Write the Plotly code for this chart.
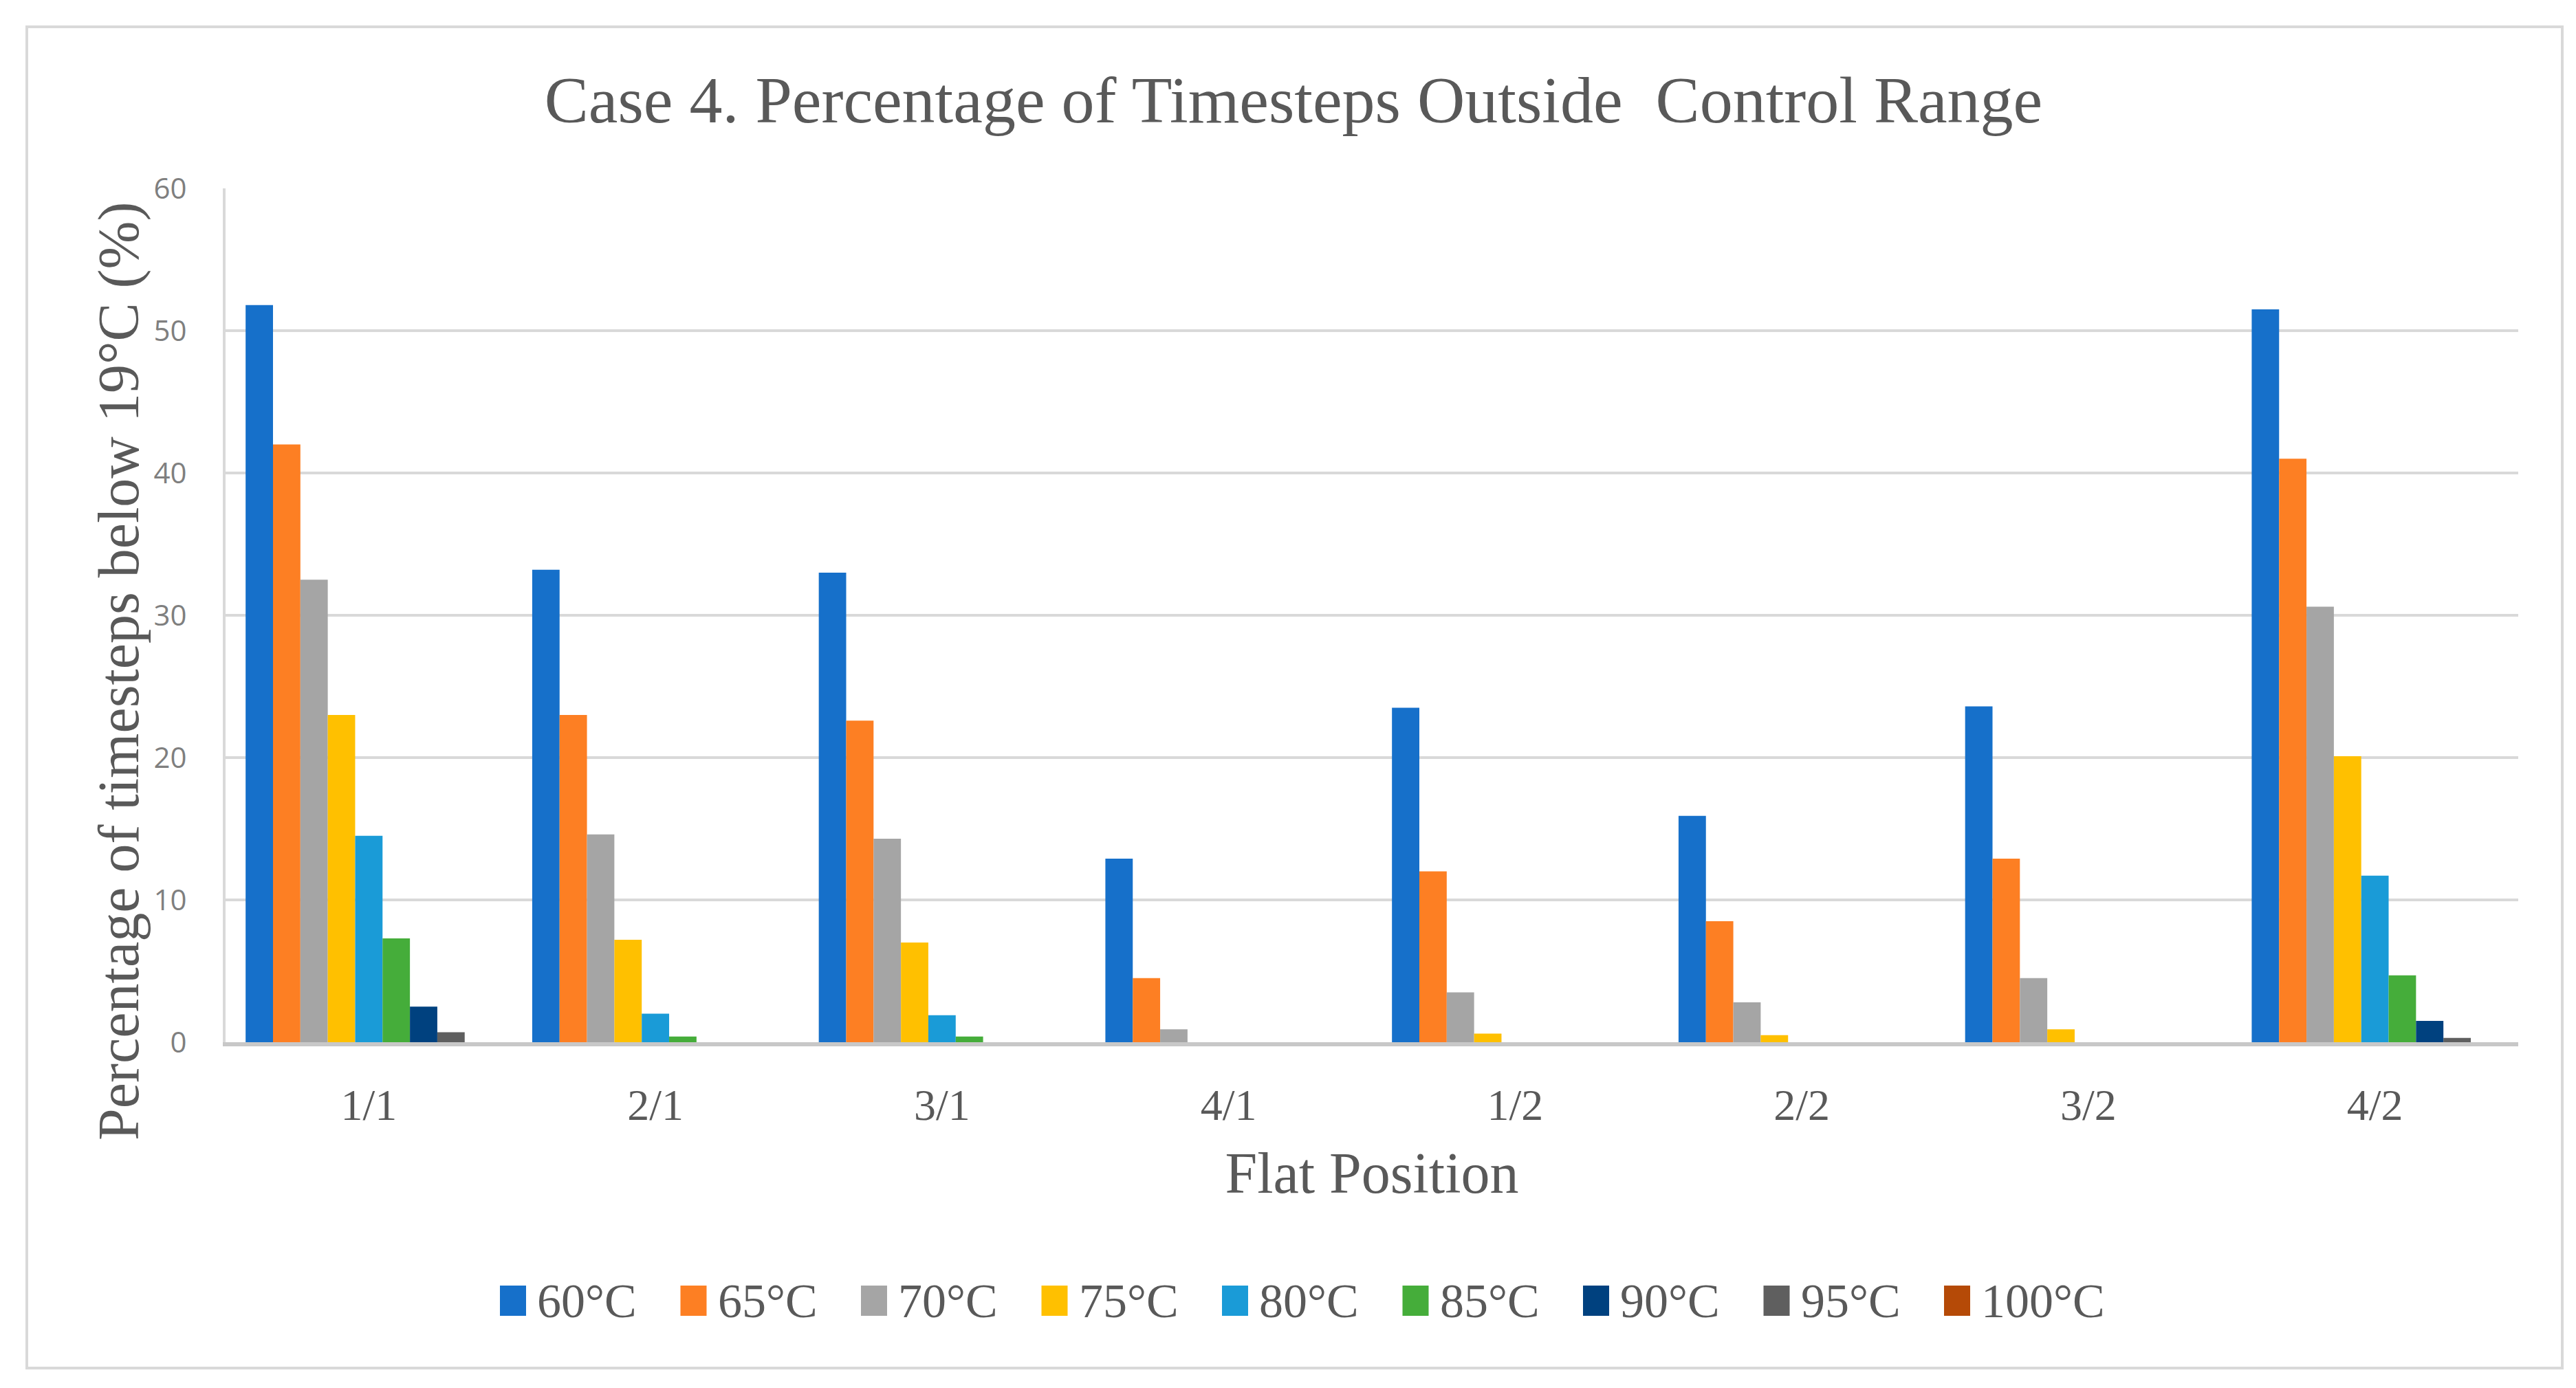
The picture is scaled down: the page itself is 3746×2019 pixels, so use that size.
import plotly.graph_objects as go

categories = ["1/1", "2/1", "3/1", "4/1", "1/2", "2/2", "3/2", "4/2"]
series_names = ["60°C", "65°C", "70°C", "75°C", "80°C", "85°C", "90°C", "95°C", "100°C"]
v60 = [51.8, 33.2, 33.0, 12.9, 23.5, 15.9, 23.6, 51.5]
v65 = [42.0, 23.0, 22.6, 4.5, 12.0, 8.5, 12.9, 41.0]
v70 = [32.5, 14.6, 14.3, 0.9, 3.5, 2.8, 4.5, 30.6]
v75 = [23.0, 7.2, 7.0, 0.0, 0.6, 0.5, 0.9, 20.1]
v80 = [14.5, 2.0, 1.9, 0.0, 0.0, 0.0, 0.0, 11.7]
v85 = [7.3, 0.4, 0.4, 0.0, 0.0, 0.0, 0.0, 4.7]
v90 = [2.5, 0.0, 0.0, 0.0, 0.0, 0.0, 0.0, 1.5]
v95 = [0.7, 0.0, 0.0, 0.0, 0.0, 0.0, 0.0, 0.3]
v100 = [0.0, 0.0, 0.0, 0.0, 0.0, 0.0, 0.0, 0.0]
values = [v60, v65, v70, v75, v80, v85, v90, v95, v100]
colors = ["#1670CA", "#FD7F23", "#A5A5A5", "#FFC000", "#1A9BD7",
          "#45AD3A", "#00417F", "#5F5F5F", "#B54A07"]
y_ticks = [0, 10, 20, 30, 40, 50, 60]

serif = "Liberation Serif"
text_col = "#595959"

fig = go.Figure()
for name, vals, col in zip(series_names, values, colors):
    fig.add_trace(go.Bar(x=categories, y=vals, name=name, showlegend=False,
                         marker=dict(color=col, line=dict(width=0))))

W, H = 3746, 2019
L, R, T, B = 320, 92, 266, 511
pw, ph = W - L - R, H - T - B

def px_x(x):
    return (x - L) / pw

def px_y(y):
    return (H - B - y) / ph

# manual legend (large colour keys as in the reference)
shapes = [dict(type="rect", xref="paper", yref="paper",
               x0=px_x(31), x1=px_x(3718), y0=px_y(1982), y1=px_y(31),
               line=dict(color="#D9D9D9", width=4), layer="below")]
annotations = []
leg_x0, leg_step, leg_y = 719, 262.5, 1884
for i, (name, col) in enumerate(zip(series_names, colors)):
    x0 = leg_x0 + i * leg_step
    shapes.append(dict(type="rect", xref="paper", yref="paper",
                       x0=px_x(x0), x1=px_x(x0 + 38),
                       y0=px_y(leg_y + 22), y1=px_y(leg_y - 22),
                       fillcolor=col, line=dict(width=0)))
    annotations.append(dict(text=name, xref="paper", yref="paper",
                            x=px_x(x0 + 52), y=px_y(leg_y), xanchor="left",
                            yanchor="middle", showarrow=False,
                            font=dict(family=serif, size=70, color=text_col)))

annotations.append(dict(text="Percentage of timesteps below 19°C (%)",
                        xref="paper", yref="paper", x=px_x(165), y=px_y(968),
                        xanchor="center", yanchor="middle", textangle=-90,
                        showarrow=False,
                        font=dict(family=serif, size=84, color=text_col)))

fig.update_layout(
    width=W, height=H,
    margin=dict(l=L, r=R, t=T, b=B, autoexpand=False),
    paper_bgcolor="white", plot_bgcolor="white",
    barmode="group", bargap=0.14, bargroupgap=0,
    title=dict(text="Case 4. Percentage of Timesteps Outside  Control Range",
               x=0.5, xref="container", xanchor="center",
               y=1 - 136 / H, yref="container", yanchor="middle",
               font=dict(family=serif, size=96, color=text_col)),
    xaxis=dict(
        showgrid=False, showline=True, linecolor="#C8C8C8", linewidth=6,
        ticks="", ticklabelstandoff=30,
        tickfont=dict(family=serif, size=64, color=text_col),
        title=dict(text="Flat Position", standoff=36,
                   font=dict(family=serif, size=84, color=text_col)),
    ),
    yaxis=dict(
        range=[0, 60], tickvals=y_ticks, showgrid=True, gridcolor="#D9D9D9",
        gridwidth=4, zeroline=False, showline=True, linecolor="#D9D9D9",
        linewidth=4, ticks="", ticklabelstandoff=44,
        tickfont=dict(family="Open Sans", size=42, color="#7F7F7F"),
    ),
    shapes=shapes,
    annotations=annotations,
)

fig.write_html("out.html")
